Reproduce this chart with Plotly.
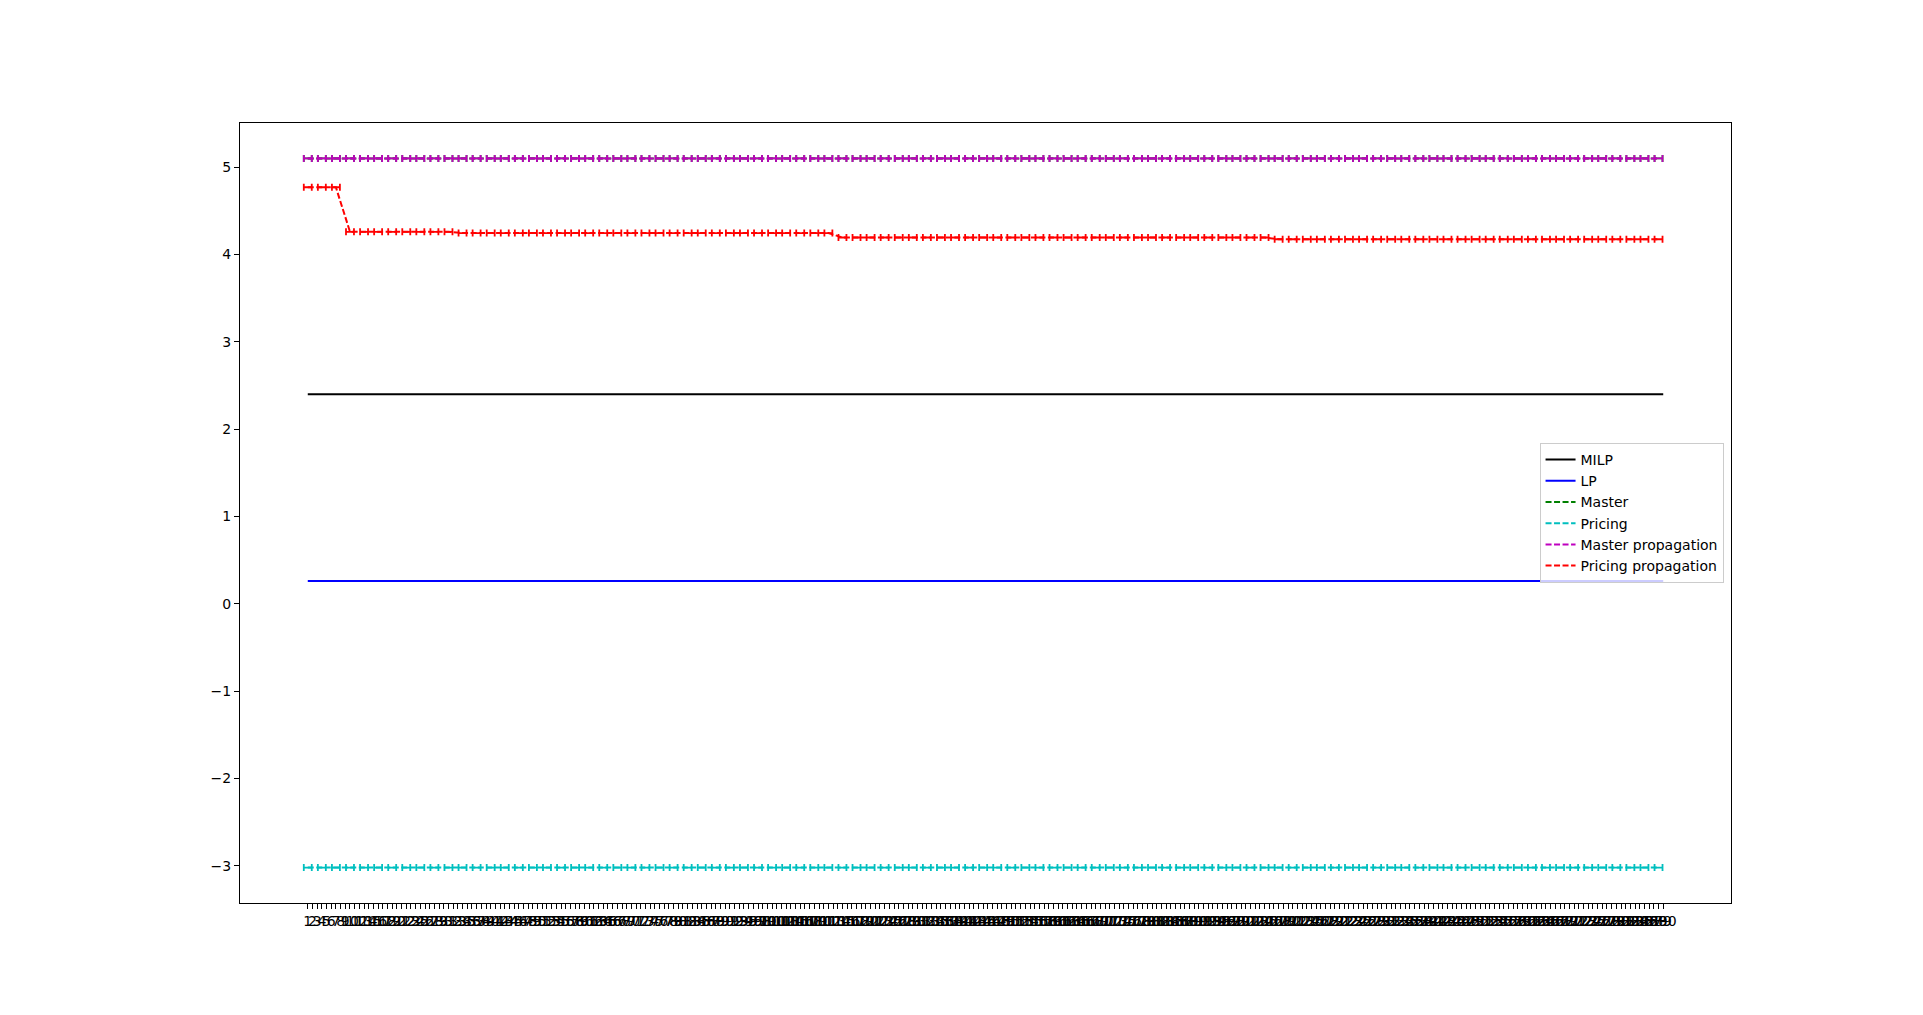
import plotly.graph_objects as go

# ---- data ----
categories = [str(i) for i in range(1, 291)]          # x tick labels 1..290
cat_pos = list(range(1, 291))
iter_pos = list(range(1, 291, 3))                      # iterations shown with error bars
milp_value = [2.40] * len(cat_pos)
lp_value = [0.26] * len(cat_pos)
master = [5.10] * len(iter_pos)
pricing = [-3.02] * len(iter_pos)
master_prop = [5.10] * len(iter_pos)
pricing_prop = [4.77] * 3 + [4.26] * 8 + [4.245] * 27 + [4.195] * 31 + [4.175] * 28
x_err = 0.85
y_ticks = [-3, -2, -1, 0, 1, 2, 3, 4, 5]

FONT = "DejaVu Sans"
fig = go.Figure()

fig.add_trace(go.Scatter(x=cat_pos, y=milp_value, mode="lines", name="MILP",
                         line=dict(color="#000000", width=2)))
fig.add_trace(go.Scatter(x=cat_pos, y=lp_value, mode="lines", name="LP",
                         line=dict(color="#0000ff", width=2)))

def eb(y, name, color):
    return go.Scatter(
        x=iter_pos, y=y, mode="lines", name=name,
        line=dict(color=color, width=2, dash="6px,2.5px"),
        error_x=dict(type="constant", value=x_err, color=color, thickness=1.8, width=3.5),
    )

fig.add_trace(eb(master, "Master", "#008000"))
fig.add_trace(eb(pricing, "Pricing", "#00bfbf"))
fig.add_trace(eb(master_prop, "Master propagation", "#bf00bf"))
fig.add_trace(eb(pricing_prop, "Pricing propagation", "#ff0000"))

axis_common = dict(showline=True, linecolor="#000000", linewidth=1.1, mirror=True,
                   ticks="outside", ticklen=5, tickwidth=1.1, tickcolor="#000000",
                   showgrid=False, zeroline=False,
                   tickfont=dict(family=FONT, size=14, color="#000000"))

fig.update_layout(
    width=1923, height=1015,
    paper_bgcolor="white", plot_bgcolor="white",
    margin=dict(l=232, r=200, t=115, b=120),
    font=dict(family=FONT, size=14, color="#000000"),
    xaxis=dict(range=[-13.45, 304.45], tickmode="array", tickvals=cat_pos,
               ticktext=categories, tickangle=0, **axis_common),
    yaxis=dict(range=[-3.426, 5.506], tickmode="array", tickvals=y_ticks,
               ticktext=[str(v).replace("-", "\u2212") for v in y_ticks], **axis_common),
    legend=dict(x=0.995, y=0.5, xanchor="right", yanchor="middle",
                bgcolor="rgba(255,255,255,0.8)", bordercolor="#cccccc", borderwidth=1,
                font=dict(family=FONT, size=14), tracegroupgap=0, itemwidth=30),
    showlegend=True,
)

fig.write_html("out.html")
